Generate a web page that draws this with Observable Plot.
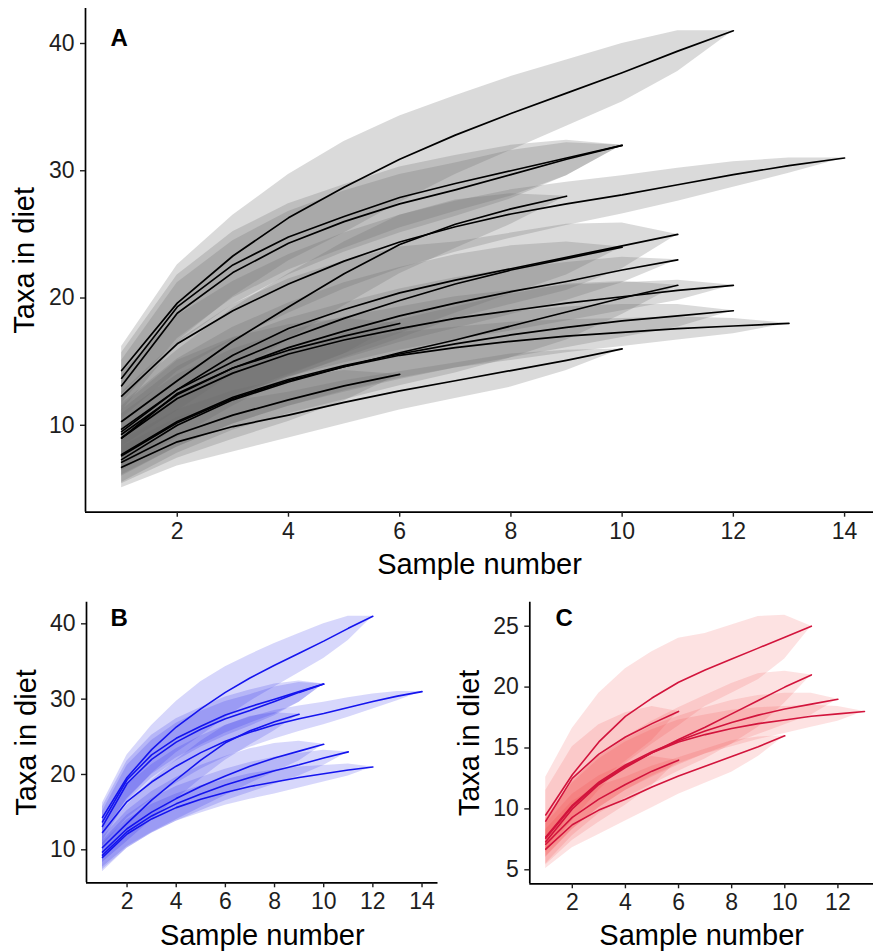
<!DOCTYPE html>
<html>
<head>
<meta charset="utf-8">
<script src="https://cdn.jsdelivr.net/npm/d3@7"></script>
<script src="https://cdn.jsdelivr.net/npm/@observablehq/plot@0.6"></script>
<style>
  html, body { margin: 0; padding: 0; background: #fff; }
  #wrap { position: relative; width: 873px; height: 951px; overflow: hidden; }
  #wrap svg { position: absolute; overflow: visible; }
</style>
</head>
<body>
<div id="wrap"></div>
<script>
// ---- data (sample number starts at 1) ----
const sampleTicksWide = [2, 4, 6, 8, 10, 12, 14];
const sampleTicksRed = [2, 4, 6, 8, 10, 12];
const taxaTicksAll = [10, 20, 30, 40];
const taxaTicksBlue = [10, 20, 30, 40];
const taxaTicksRed = [5, 10, 15, 20, 25];

// blue group: mean taxa at sample 1..n
const blueMean = [
  [14.3, 19.6, 23.3, 26.3, 28.7, 30.9, 32.8, 34.5, 36.1, 37.7, 39.4, 41.0],
  [13.7, 19.3, 22.6, 24.8, 26.4, 27.9, 29.0, 30.0, 31.0, 32.0],
  [13.1, 18.8, 22.0, 24.3, 26.0, 27.4, 28.5, 29.7, 30.9, 32.0],
  [12.3, 16.4, 19.0, 21.1, 22.9, 24.4, 25.6, 26.6, 27.4, 28.1, 28.9, 29.7, 30.4, 31.0],
  [10.3, 13.5, 16.6, 19.3, 21.9, 24.2, 25.8, 27.0, 28.0],
  [9.7, 12.8, 15.0, 16.8, 18.4, 19.8, 21.1, 22.2, 23.1, 24.0],
  [9.3, 12.4, 14.5, 16.1, 17.4, 18.6, 19.6, 20.5, 21.3, 22.2, 23.0],
  [9.0, 12.1, 14.1, 15.6, 16.7, 17.6, 18.4, 19.0, 19.6, 20.1, 20.6, 21.0]
];
// blue group: half-width of the confidence band
const blueHalf = [
  [1.9, 3.0, 3.2, 3.4, 3.6, 3.4, 3.1, 2.9, 2.6, 2.3, 1.6, 0],
  [2.0, 2.5, 2.6, 2.6, 2.5, 2.4, 2.2, 2.0, 1.4, 0],
  [2.0, 2.4, 2.5, 2.5, 2.4, 2.3, 2.1, 1.9, 1.3, 0],
  [1.8, 2.2, 2.3, 2.3, 2.2, 2.1, 2.0, 1.9, 1.7, 1.5, 1.3, 1.0, 0.6, 0],
  [2.0, 2.4, 2.6, 2.6, 2.5, 2.3, 1.9, 1.2, 0],
  [2.0, 2.4, 2.7, 2.8, 2.8, 2.6, 2.3, 1.9, 1.3, 0],
  [1.9, 2.2, 2.3, 2.3, 2.2, 2.1, 2.0, 1.8, 1.5, 1.0, 0],
  [1.9, 1.9, 1.9, 1.8, 1.8, 1.7, 1.7, 1.6, 1.4, 1.1, 0.8, 0]
];
// red group: mean taxa at sample 1..n
const redMean = [
  [9.5, 12.8, 15.5, 17.6, 19.1, 20.4, 21.4, 22.3, 23.2, 24.1, 25.0],
  [9.0, 12.5, 14.5, 15.9, 17.0, 18.0],
  [7.3, 10.0, 12.0, 13.4, 14.6, 15.7, 16.7, 17.8, 18.9, 20.0, 21.0],
  [7.7, 10.3, 12.2, 13.6, 14.7, 15.6, 16.4, 17.1, 17.7, 18.2, 18.6, 19.0],
  [7.6, 10.2, 12.1, 13.5, 14.6, 15.5, 16.1, 16.6, 17.0, 17.3, 17.6, 17.8, 18.0],
  [7.1, 9.3, 10.8, 12.0, 13.1, 14.0],
  [6.7, 8.7, 9.9, 10.8, 11.8, 12.7, 13.5, 14.3, 15.1, 16.0]
];
// red group: half-width of the confidence band
const redHalf = [
  [3.1, 3.8, 4.0, 3.9, 3.8, 3.6, 3.0, 2.8, 2.6, 1.8, 0],
  [2.5, 2.6, 2.4, 2.0, 1.4, 0],
  [1.8, 2.2, 2.4, 2.5, 2.6, 2.6, 2.6, 2.5, 2.2, 1.3, 0],
  [1.6, 2.0, 2.1, 2.1, 2.1, 2.0, 1.9, 1.8, 1.6, 1.3, 0.9, 0],
  [1.6, 1.9, 2.0, 2.0, 1.9, 1.8, 1.6, 1.5, 1.3, 1.1, 0.9, 0.6, 0],
  [1.7, 1.9, 1.9, 1.7, 1.2, 0],
  [1.6, 1.9, 2.0, 1.8, 1.7, 1.5, 1.4, 1.3, 0.8, 0]
];

const xTitle = "Sample number";
const yTitle = "Taxa in diet";

// ---- build tidy tables ----
function buildRows(means, halves, group) {
  const out = [];
  means.forEach((m, i) => {
    m.forEach((v, j) => {
      out.push({curve: group + i, sample: j + 1, mean: v, lo: v - halves[i][j], hi: v + halves[i][j]});
    });
  });
  return out;
}
const blueRows = buildRows(blueMean, blueHalf, "b");
const redRows = buildRows(redMean, redHalf, "r");
const allRows = blueRows.concat(redRows);

const FONT = "'Liberation Sans', Arial, Helvetica, sans-serif";

function panel(o) {
  return Plot.plot({
    width: o.width,
    height: o.height,
    marginTop: o.mt, marginBottom: o.mb, marginLeft: o.ml, marginRight: o.mr,
    style: {fontFamily: FONT, background: "transparent", overflow: "visible"},
    x: {domain: o.xDomain},
    y: {domain: o.yDomain},
    marks: [
      Plot.areaY(o.rows, {x: "sample", y1: "lo", y2: "hi", z: "curve", fill: o.fill, fillOpacity: o.fillOpacity, curve: "linear"}),
      Plot.line(o.rows, {x: "sample", y: "mean", z: "curve", stroke: o.stroke, strokeWidth: o.lineWidth, curve: "linear"}),
      Plot.ruleX([o.xDomain[0]], {stroke: "#000", strokeWidth: 1.7}),
      Plot.ruleY([o.yDomain[0]], {stroke: "#000", strokeWidth: 1.7}),
      Plot.axisX(o.xTicks, {tickSize: 5, tickPadding: 5, fontSize: 23, color: "#1e1e1e", strokeWidth: 1.4, label: null}),
      Plot.axisY(o.yTicks, {tickSize: 5, tickPadding: 6, fontSize: 23, color: "#1e1e1e", strokeWidth: 1.4, label: null}),
      Plot.text([xTitle], {text: d => d, frameAnchor: "bottom", dy: o.xTitleDy, fontSize: 29, fill: "#000", lineAnchor: "middle", textAnchor: "middle"}),
      Plot.text([yTitle], {text: d => d, frameAnchor: "left", dx: o.yTitleDx, rotate: -90, fontSize: 29, fill: "#000", lineAnchor: "middle", textAnchor: "middle"}),
      Plot.text([o.letter], {text: d => d, frameAnchor: "top-left", dx: o.letterDx, dy: o.letterDy, fontSize: 24, fontWeight: "bold", fill: "#000", textAnchor: "start", lineAnchor: "middle"})
    ]
  });
}

const wrap = document.getElementById("wrap");

const pA = panel({
  rows: allRows, width: 873, height: 590, mt: 8, mb: 78.3, ml: 85, mr: 0,
  xDomain: [0.35, 14.52], yDomain: [3.17, 42.75],
  xTicks: sampleTicksWide, yTicks: taxaTicksAll,
  fill: "#6a6a6a", fillOpacity: 0.25, stroke: "#000", lineWidth: 1.7,
  xTitleDy: 53, yTitleDx: -61, letter: "A", letterDx: 25, letterDy: 29.4
});
pA.style.left = "0px"; pA.style.top = "0px";
wrap.appendChild(pA);

const pB = panel({
  rows: blueRows, width: 440, height: 361, mt: 11.7, mb: 68.7, ml: 86, mr: 2.5,
  xDomain: [0.35, 14.65], yDomain: [5.62, 42.87],
  xTicks: sampleTicksWide, yTicks: taxaTicksBlue,
  fill: "#2020e8", fillOpacity: 0.18, stroke: "#1414ee", lineWidth: 1.6,
  xTitleDy: 53, yTitleDx: -60, letter: "B", letterDx: 24, letterDy: 15.7
});
pB.style.left = "0px"; pB.style.top = "590px";
wrap.appendChild(pB);

const pC = panel({
  rows: redRows, width: 433, height: 361, mt: 11.7, mb: 67.7, ml: 89.3, mr: 0,
  xDomain: [0.4, 13.34], yDomain: [3.85, 26.97],
  xTicks: sampleTicksRed, yTicks: taxaTicksRed,
  fill: "#f03030", fillOpacity: 0.14, stroke: "#d2143c", lineWidth: 1.6,
  xTitleDy: 52, yTitleDx: -60, letter: "C", letterDx: 25.7, letterDy: 16.2
});
pC.style.left = "440px"; pC.style.top = "590px";
wrap.appendChild(pC);
</script>
</body>
</html>
